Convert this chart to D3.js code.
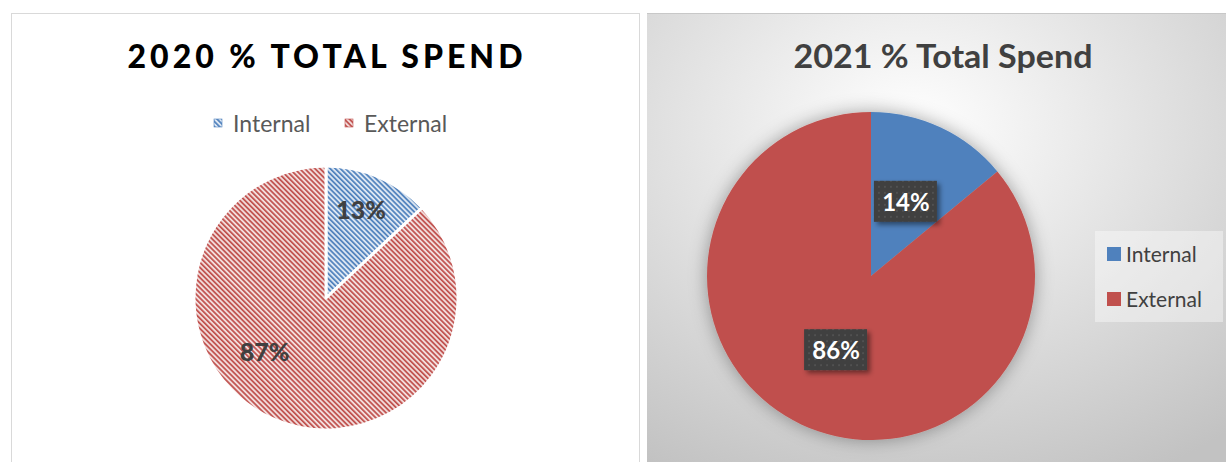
<!DOCTYPE html>
<html>
<head>
<meta charset="utf-8">
<script src="https://cdn.jsdelivr.net/npm/d3@7"></script>
<style>
  body { margin: 0; background: #fff; }
  svg { display: block; font-family: Lato, "Open Sans", sans-serif; }
</style>
</head>
<body>
<div id="chart"></div>
<script>
// data
var categories = ["Internal", "External"];
var spend2020 = [13, 87];
var spend2021 = [14, 86];
var colors = ["#4f81bd", "#c0504d"];
var lightColors = ["#dce6f2", "#f2dcdb"];

var svgWidth = 1226;
var svgHeight = 462;

var svg = d3.select("#chart")
  .append("svg")
  .attr("width", svgWidth)
  .attr("height", svgHeight);

var defs = svg.append("defs");

// stripe patterns for 2020 chart
categories.forEach(function(c, i) {
  var p = defs.append("pattern")
    .attr("id", "stripe" + i)
    .attr("patternUnits", "userSpaceOnUse")
    .attr("width", 3.6)
    .attr("height", 3.6)
    .attr("patternTransform", "rotate(-45)");
  p.append("rect").attr("width", 3.6).attr("height", 3.6).attr("fill", lightColors[i]);
  p.append("rect").attr("width", 1.7).attr("height", 3.6).attr("fill", colors[i]);
});

// gradient background for 2021 chart
var grad = defs.append("radialGradient")
  .attr("id", "bg2021")
  .attr("cx", "45%").attr("cy", "25%").attr("r", "85%");
grad.append("stop").attr("offset", "0%").attr("stop-color", "#ffffff");
grad.append("stop").attr("offset", "100%").attr("stop-color", "#c2c2c2");

var shadow = defs.append("filter").attr("id", "pieShadow")
  .attr("x", "-30%").attr("y", "-30%").attr("width", "160%").attr("height", "160%");
shadow.append("feDropShadow")
  .attr("dx", 0).attr("dy", 0).attr("stdDeviation", 9)
  .attr("flood-color", "#000").attr("flood-opacity", 0.35);

var boxShadow = defs.append("filter").attr("id", "boxShadow")
  .attr("x", "-30%").attr("y", "-30%").attr("width", "170%").attr("height", "170%");
boxShadow.append("feDropShadow")
  .attr("dx", 3).attr("dy", 3).attr("stdDeviation", 2.5)
  .attr("flood-color", "#000").attr("flood-opacity", 0.45);

var dots = defs.append("pattern")
  .attr("id", "dots")
  .attr("patternUnits", "userSpaceOnUse")
  .attr("width", 6).attr("height", 6);
dots.append("rect").attr("width", 6).attr("height", 6).attr("fill", "#3f3f3f");
dots.append("rect").attr("x", 2).attr("y", 2).attr("width", 2).attr("height", 2).attr("fill", "#515151");

var pie = d3.pie().sort(null).value(d => d);

// ---------- 2020 chart ----------
var left = svg.append("g");
left.append("rect")
  .attr("x", 11.5).attr("y", 13.5)
  .attr("width", 628).attr("height", 460)
  .attr("fill", "#fff")
  .attr("stroke", "#d9d9d9");

left.append("text")
  .attr("x", 325).attr("y", 68)
  .attr("text-anchor", "middle")
  .attr("font-size", 32)
  .attr("font-weight", 900)
  .attr("fill", "#000")
  .attr("textLength", 395)
  .attr("lengthAdjust", "spacing")
  .text("2020 % TOTAL SPEND");

// legend 2020
var leg1 = left.append("g");
var legX1 = [214, 345];
categories.forEach(function(c, i) {
  leg1.append("rect")
    .attr("x", legX1[i]).attr("y", 119)
    .attr("width", 8).attr("height", 8)
    .attr("fill", "url(#stripe" + i + ")")
    .attr("stroke", colors[i]).attr("stroke-width", 0.6);
  leg1.append("text")
    .attr("x", legX1[i] + 19).attr("y", 132)
    .attr("font-size", 23)
    .attr("fill", "#595959")
    .text(c);
});

var r1 = 132;
var pie1 = left.append("g").attr("transform", "translate(326,298)");
var arc1 = d3.arc().innerRadius(0).outerRadius(r1);
var arcs1 = pie(spend2020);
pie1.selectAll("path")
  .data(arcs1)
  .join("path")
  .attr("d", arc1)
  .attr("fill", (d, i) => "url(#stripe" + i + ")")
  .attr("stroke", "#fff")
  .attr("stroke-width", 3)
  .attr("stroke-linejoin", "round");

// label positions: small slice at 0.72r on its mid angle, large one nudged like Excel best fit
var labelPos1 = [
  d3.pointRadial((arcs1[0].startAngle + arcs1[0].endAngle) / 2 - 0.03, r1 * 0.72),
  d3.pointRadial((arcs1[1].startAngle + arcs1[1].endAngle) / 2 + 0.44, r1 * 0.62)
];
pie1.selectAll("text")
  .data(arcs1)
  .join("text")
  .attr("x", (d, i) => labelPos1[i][0])
  .attr("y", (d, i) => labelPos1[i][1] + 9)
  .attr("text-anchor", "middle")
  .attr("font-size", 25)
  .attr("font-weight", 900)
  .attr("fill", "#404040")
  .text(d => d.data + "%");

// ---------- 2021 chart ----------
var right = svg.append("g");
right.append("rect")
  .attr("x", 647).attr("y", 13)
  .attr("width", 590).attr("height", 460)
  .attr("fill", "url(#bg2021)");
right.append("line")
  .attr("x1", 647).attr("x2", 1226)
  .attr("y1", 13.5).attr("y2", 13.5)
  .attr("stroke", "#c8c8c8");

right.append("text")
  .attr("x", 943).attr("y", 68)
  .attr("text-anchor", "middle")
  .attr("font-size", 32)
  .attr("font-weight", "bold")
  .attr("fill", "#404040")
  .attr("textLength", 299)
  .attr("lengthAdjust", "spacingAndGlyphs")
  .text("2021 % Total Spend");

var r2 = 164;
var pie2 = right.append("g").attr("transform", "translate(871,276)");
var arc2 = d3.arc().innerRadius(0).outerRadius(r2);
var arcs2 = pie(spend2021);
pie2.append("g")
  .attr("filter", "url(#pieShadow)")
  .selectAll("path")
  .data(arcs2)
  .join("path")
  .attr("d", arc2)
  .attr("fill", (d, i) => colors[i]);

var labels2 = pie2.selectAll("g.lbl")
  .data(arcs2)
  .join("g")
  .attr("class", "lbl")
  .attr("transform", d => "translate(" + arc2.centroid(d) + ")");
labels2.append("rect")
  .attr("x", -32).attr("y", -21)
  .attr("width", 63).attr("height", 41)
  .attr("fill", "url(#dots)")
  .attr("filter", "url(#boxShadow)");
labels2.append("text")
  .attr("y", 9)
  .attr("text-anchor", "middle")
  .attr("font-size", 24)
  .attr("font-weight", "bold")
  .attr("fill", "#fff")
  .text(d => d.data + "%");

// legend 2021
var leg2 = right.append("g");
leg2.append("rect")
  .attr("x", 1095).attr("y", 231)
  .attr("width", 128).attr("height", 91)
  .attr("fill", "#fff").attr("opacity", 0.4);
categories.forEach(function(c, i) {
  leg2.append("rect")
    .attr("x", 1107).attr("y", 247 + i * 45)
    .attr("width", 14).attr("height", 14)
    .attr("fill", colors[i]);
  leg2.append("text")
    .attr("x", 1126).attr("y", 262 + i * 45)
    .attr("font-size", 21)
    .attr("fill", "#404040")
    .text(c);
});
</script>
</body>
</html>
